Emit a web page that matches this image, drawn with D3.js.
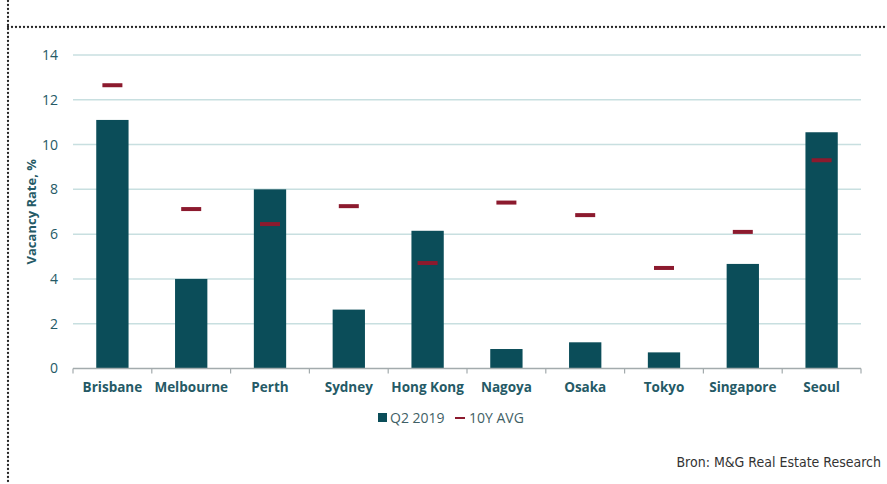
<!DOCTYPE html>
<html>
<head>
<meta charset="utf-8">
<script src="https://cdn.jsdelivr.net/npm/d3@7"></script>
<style>
  body { margin: 0; background: #fff; }
  text { font-family: "Open Sans", sans-serif; }
</style>
</head>
<body>
<div id="chart"></div>
<script>
// values
const cities = ["Brisbane", "Melbourne", "Perth", "Sydney", "Hong Kong", "Nagoya", "Osaka", "Tokyo", "Singapore", "Seoul"];
const q2_2019 = [11.1, 4.0, 8.0, 2.63, 6.15, 0.87, 1.17, 0.72, 4.67, 10.55];
const avg10y = [12.65, 7.12, 6.45, 7.25, 4.71, 7.41, 6.85, 4.49, 6.1, 9.3];
const yTicks = [0, 2, 4, 6, 8, 10, 12, 14];

const width = 887, height = 484;
const barColor = "#0b4d59";
const avgColor = "#8c1a2e";
const textColor = "#255a66";

const svg = d3.select('#chart')
    .append('svg')
    .attr('width', width)
    .attr('height', height);

// dotted frame (top + left)
const dots = g => g
    .style('stroke', '#222').style('stroke-width', 2.3)
    .style('stroke-dasharray', '0,4').style('stroke-linecap', 'round');
svg.append('line')
    .attr('x1', 8).attr('x2', width).attr('y1', 27).attr('y2', 27)
    .call(dots);
svg.append('line')
    .attr('x1', 8).attr('x2', 8).attr('y1', 1).attr('y2', height)
    .call(dots);

const x = d3.scaleBand()
    .domain(cities)
    .range([73, 861])
    .paddingInner(0.59)
    .paddingOuter(0.295);

const xb = d3.scaleBand().domain(cities).range([73, 861]);

const y = d3.scaleLinear()
    .domain([0, 14])
    .range([368.5, 55]);

// gridlines
svg.append('g')
    .selectAll('line')
    .data(yTicks.filter(d => d > 0))
    .enter()
    .append('line')
    .attr('x1', 73).attr('x2', 861)
    .attr('y1', d => y(d)).attr('y2', d => y(d))
    .style('stroke', '#c8dfe0')
    .style('stroke-width', 1.5);

// y axis labels
const yAxis = d3.axisLeft(y).tickValues(yTicks).tickSize(0).tickPadding(0);
svg.append('g')
    .attr('transform', 'translate(58,0)')
    .call(yAxis)
    .call(g => g.select('.domain').remove())
    .selectAll('text')
    .style('font-size', '14px')
    .style('fill', textColor);

svg.append('text')
    .attr('transform', 'translate(36,' + y(7) + ') rotate(-90)')
    .attr('text-anchor', 'middle')
    .style('font-size', '13px')
    .style('font-weight', 'bold')
    .style('fill', textColor)
    .text('Vacancy Rate, %');

// bars
svg.append('g')
    .selectAll('rect')
    .data(q2_2019)
    .enter()
    .append('rect')
    .attr('x', (d, i) => x(cities[i]))
    .attr('width', x.bandwidth())
    .attr('y', d => y(d))
    .attr('height', d => y(0) - y(d))
    .style('fill', barColor);

// 10Y avg markers
svg.append('g')
    .selectAll('rect')
    .data(avg10y)
    .enter()
    .append('rect')
    .attr('x', (d, i) => xb(cities[i]) + xb.bandwidth() / 2 - 10)
    .attr('width', 20)
    .attr('y', d => y(d) - 2)
    .attr('height', 4)
    .style('fill', avgColor);

// x axis
const xAxis = d3.axisBottom(xb).tickSize(0).tickPadding(14);
const gx = svg.append('g')
    .attr('transform', 'translate(0,' + y(0) + ')')
    .call(xAxis);
gx.select('.domain')
    .attr('d', 'M73,0H861')
    .style('stroke', '#a3abad')
    .style('stroke-width', 1.5);
gx.selectAll('text')
    .style('font-size', '13.5px')
    .style('font-weight', 'bold')
    .style('fill', textColor);
gx.append('g')
    .selectAll('line')
    .data(cities.map(c => xb(c)).concat([861]))
    .enter()
    .append('line')
    .attr('x1', d => d).attr('x2', d => d)
    .attr('y1', 0).attr('y2', 5)
    .style('stroke', '#a3abad')
    .style('stroke-width', 1.2);

// legend
const legend = svg.append('g').attr('transform', 'translate(378,418)');
legend.append('rect')
    .attr('x', 0).attr('y', -5).attr('width', 9).attr('height', 9)
    .style('fill', barColor);
legend.append('text')
    .attr('x', 12).attr('y', 5)
    .style('font-size', '14px')
    .style('fill', '#3f5f66')
    .text('Q2 2019');
legend.append('rect')
    .attr('x', 77).attr('y', -1).attr('width', 10).attr('height', 2)
    .style('fill', avgColor);
legend.append('text')
    .attr('x', 91).attr('y', 5)
    .style('font-size', '14px')
    .style('fill', '#3f5f66')
    .text('10Y AVG');

// source
svg.append('text')
    .attr('x', 881).attr('y', 467)
    .attr('text-anchor', 'end')
    .style('font-family', '"DejaVu Sans Condensed", sans-serif')
    .style('font-size', '14px')
    .style('fill', '#333')
    .text('Bron: M&G Real Estate Research');
</script>
</body>
</html>
